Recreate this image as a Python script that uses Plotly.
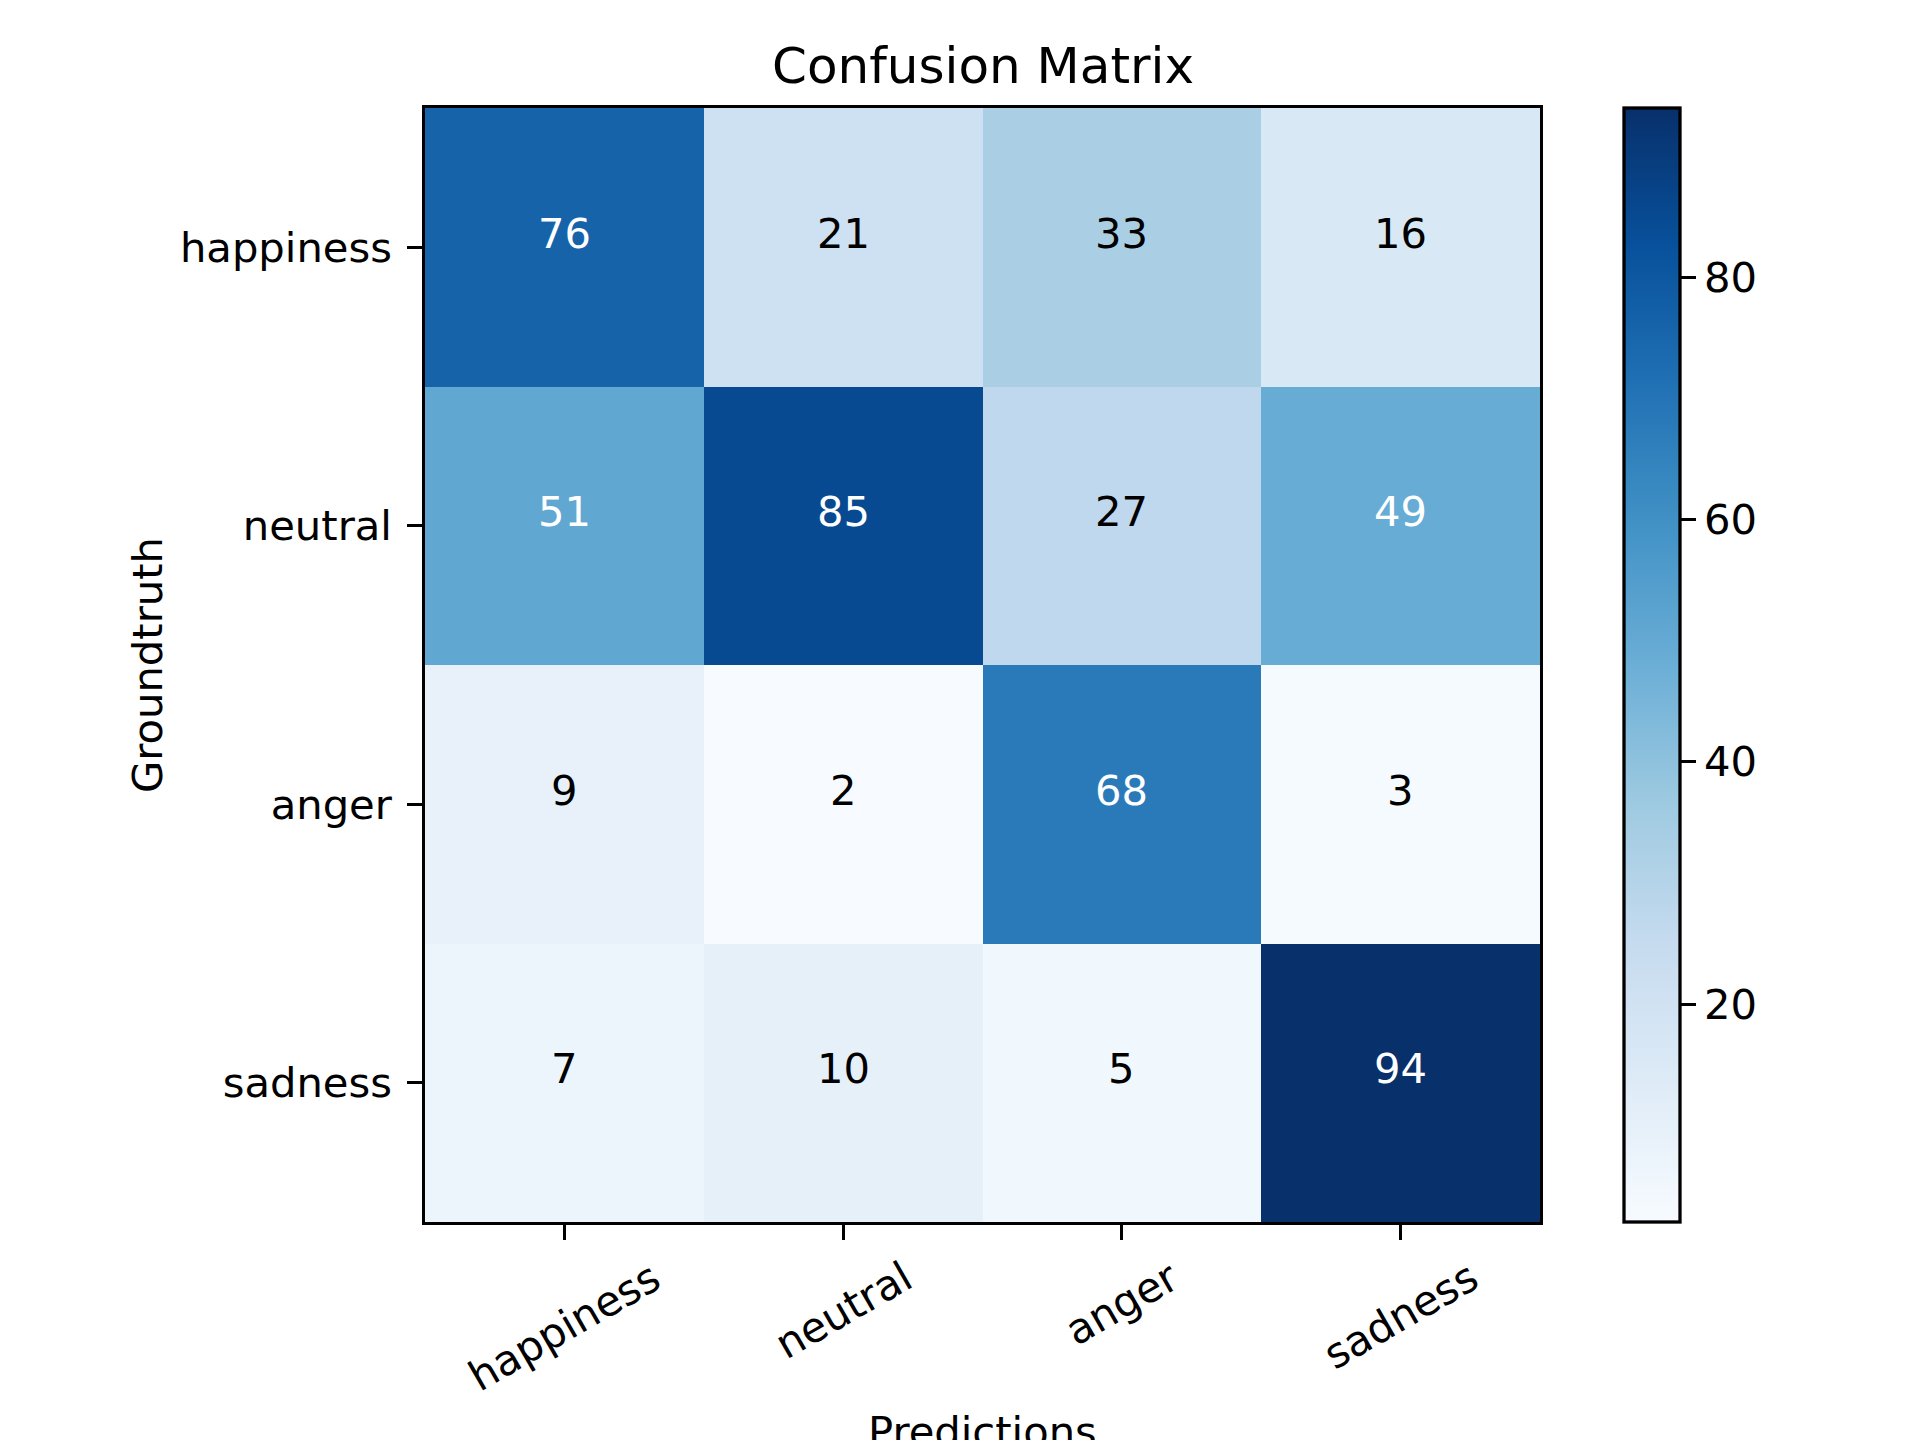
import plotly.graph_objects as go

LABELS = ['happiness', 'neutral', 'anger', 'sadness']

# rows = groundtruth, columns = predictions
ROW_HAPPINESS = [76, 21, 33, 16]
ROW_NEUTRAL = [51, 85, 27, 49]
ROW_ANGER = [9, 2, 68, 3]
ROW_SADNESS = [7, 10, 5, 94]

CBAR_TICKS = [20, 40, 60, 80]

matrix = [ROW_HAPPINESS, ROW_NEUTRAL, ROW_ANGER, ROW_SADNESS]

# matplotlib "Blues"
BLUES = ['#f7fbff', '#deebf7', '#c6dbef', '#9ecae1', '#6baed6',
         '#4292c6', '#2171b5', '#08519c', '#08306b']
colorscale = [[i / (len(BLUES) - 1), c] for i, c in enumerate(BLUES)]

W, H = 1920, 1440
FONT = 'DejaVu Sans'
FS = 41.7          # 10pt at 300 dpi
LW = 3.3           # 0.8pt
TL = 14.6          # 3.5pt

# axes box in pixels (measured from reference)
ax_l, ax_r, ax_t, ax_b = 425, 1540, 108, 1222

def px_x(p):
    return p / W

def px_y(p):
    return 1 - p / H

zmin = min(min(r) for r in matrix)
zmax = max(max(r) for r in matrix)
thresh = zmax / 2

idx = list(range(len(LABELS)))

fig = go.Figure(go.Heatmap(
    z=matrix, x=idx, y=idx,
    colorscale=colorscale, zmin=zmin, zmax=zmax,
    xgap=0, ygap=0, hoverinfo='skip',
    colorbar=dict(
        x=px_x(1624), xanchor='left',
        y=px_y((ax_t + ax_b) / 2), yanchor='middle',
        thickness=56, thicknessmode='pixels',
        len=ax_b - ax_t, lenmode='pixels',
        outlinewidth=LW, outlinecolor='black',
        tickvals=CBAR_TICKS, ticks='outside', ticklen=TL, tickwidth=LW,
        tickcolor='black', tickfont=dict(family=FONT, size=FS, color='black'),
        xpad=0, ypad=0,
    ),
))

annotations = []

# cell values
for i, row in enumerate(matrix):
    for j, v in enumerate(row):
        annotations.append(dict(
            x=j, y=i, xref='x', yref='y', text=str(v), showarrow=False,
            xanchor='center', yanchor='middle', yshift=14,
            font=dict(family=FONT, size=FS, color='white' if v > thresh else 'black'),
        ))

# rotated x tick labels, centred under each tick like matplotlib
for j, lab in enumerate(LABELS):
    annotations.append(dict(
        x=j, y=px_y(ax_b + 2 * TL - 2), xref='x', yref='paper', text=lab,
        showarrow=False, textangle=-30, xanchor='center', yanchor='top',
        font=dict(family=FONT, size=FS, color='black'),
    ))

annotations.append(dict(
    x=px_x((ax_l + ax_r) / 2), y=px_y(97), xref='paper', yref='paper',
    text='Confusion Matrix', showarrow=False, xanchor='center', yanchor='bottom',
    font=dict(family=FONT, size=50, color='black'),
))
annotations.append(dict(
    x=px_x((ax_l + ax_r) / 2), y=px_y(1405), xref='paper', yref='paper',
    text='Predictions', showarrow=False, xanchor='center', yanchor='top',
    font=dict(family=FONT, size=FS, color='black'),
))
annotations.append(dict(
    x=px_x(147), y=px_y((ax_t + ax_b) / 2), xref='paper', yref='paper',
    text='Groundtruth', showarrow=False, textangle=-90,
    xanchor='center', yanchor='middle',
    font=dict(family=FONT, size=FS, color='black'),
))

fig.update_layout(
    width=W, height=H,
    margin=dict(l=0, r=0, t=0, b=0),
    paper_bgcolor='white', plot_bgcolor='white',
    annotations=annotations,
    xaxis=dict(
        domain=[px_x(ax_l), px_x(ax_r)], range=[-0.5, len(LABELS) - 0.5],
        tickvals=idx, showticklabels=False, ticks='outside',
        ticklen=TL, tickwidth=LW, tickcolor='black',
        showline=True, linewidth=LW, linecolor='black', mirror=True,
        showgrid=False, zeroline=False,
    ),
    yaxis=dict(
        domain=[px_y(ax_b), px_y(ax_t)], range=[len(LABELS) - 0.5, -0.5],
        tickvals=idx, ticktext=LABELS, ticks='outside',
        ticklen=TL, tickwidth=LW, tickcolor='black',
        tickfont=dict(family=FONT, size=FS, color='black'),
        ticklabelstandoff=7,
        showline=True, linewidth=LW, linecolor='black', mirror=True,
        showgrid=False, zeroline=False,
    ),
)

# the page's default 8px body margin would shift the whole figure
fig.write_html("out.html", config={'displayModeBar': False},
               post_script="document.body.style.margin='0';")
